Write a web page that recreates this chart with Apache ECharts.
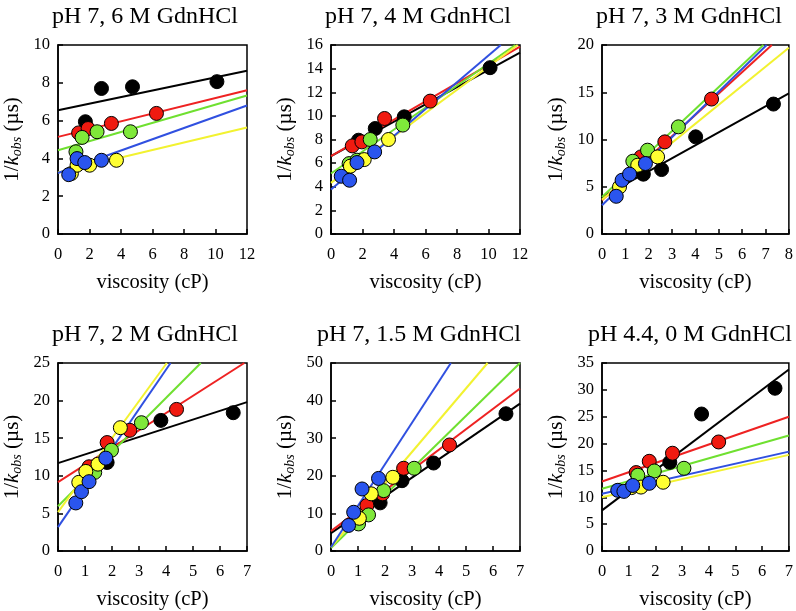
<!DOCTYPE html>
<html>
<head>
<meta charset="utf-8">
<script src="https://cdn.jsdelivr.net/npm/echarts@6/dist/echarts.min.js"></script>
<style>
html,body{margin:0;padding:0;background:#fff;}
#chart{width:796px;height:611px;}
</style>
</head>
<body>
<div id="chart"></div>
<script>
// ---------- titles & axis ranges ----------
const panelTitles = ['pH 7, 6 M GdnHCl','pH 7, 4 M GdnHCl','pH 7, 3 M GdnHCl','pH 7, 2 M GdnHCl','pH 7, 1.5 M GdnHCl','pH 4.4, 0 M GdnHCl'];
const xMax = [12, 12, 8, 7, 7, 7];
const xStep = [2, 2, 1, 1, 1, 1];
const yMax = [10, 16, 20, 25, 50, 35];
const yStep = [2, 2, 5, 5, 10, 5];
const xTitle = 'viscosity (cP)';
const yTitle = '1/{it|k}{sub|obs} (µs)';

// ---------- panel 1: pH 7, 6 M ----------
const p1Black  = [[1.74,5.94],[2.76,7.70],[4.73,7.79],[10.09,8.06]];
const p1Red    = [[1.31,5.35],[1.91,5.58],[3.39,5.85],[6.25,6.38]];
const p1Green  = [[1.14,4.35],[1.53,5.11],[2.48,5.41],[4.60,5.41]];
const p1Yellow = [[0.85,3.20],[1.21,3.64],[2.01,3.64],[3.71,3.90]];
const p1Blue   = [[0.68,3.14],[1.21,3.99],[1.70,3.78],[2.76,3.90]];
const p1BlackFit  = [[0,6.55],[12,8.64]];
const p1RedFit    = [[0,5.14],[12,7.61]];
const p1GreenFit  = [[0,4.43],[12,7.33]];
const p1YellowFit = [[0,3.25],[12,5.64]];
const p1BlueFit   = [[0,3.23],[12,6.80]];

// ---------- panel 2: pH 7, 4 M ----------
const p2Black  = [[1.75,7.94],[2.81,8.93],[4.65,9.92],[10.10,14.08]];
const p2Red    = [[1.35,7.46],[1.96,7.80],[3.40,9.78],[6.30,11.25]];
const p2Green  = [[1.15,5.96],[1.65,6.25],[2.49,8.00],[4.56,9.22]];
const p2Yellow = [[1.23,5.74],[2.11,6.30],[3.65,8.00]];
const p2Blue   = [[0.65,4.89],[1.18,4.55],[1.65,6.05],[2.77,6.95]];
const p2BlackFit  = [[0,6.60],[12,15.35]];
const p2RedFit    = [[0,6.59],[12,15.86]];
const p2GreenFit  = [[0,5.12],[11.7,16]];
const p2YellowFit = [[0,4.33],[11.85,16]];
const p2BlueFit   = [[0,3.76],[10.78,16]];

// ---------- panel 3: pH 7, 3 M ----------
const p3Black  = [[1.77,6.33],[2.55,6.82],[4.01,10.28],[7.34,13.75]];
const p3Red    = [[1.67,8.16],[2.69,9.75],[4.69,14.28]];
const p3Green  = [[1.32,7.70],[1.95,8.87],[3.27,11.34]];
const p3Yellow = [[0.75,4.98],[1.53,7.28],[2.38,8.16]];
const p3Blue   = [[0.61,3.99],[0.86,5.69],[1.18,6.33],[1.86,7.46]];
const p3BlackFit  = [[0,3.90],[8,14.88]];
const p3RedFit    = [[0,3.57],[7.27,20]];
const p3GreenFit  = [[0,3.92],[6.91,20]];
const p3YellowFit = [[0,3.64],[8,19.7]];
const p3BlueFit   = [[0,3.04],[7.05,20]];

// ---------- panel 4: pH 7, 2 M ----------
const p4Black  = [[1.82,11.77],[3.81,17.37],[6.49,18.39]];
const p4Red    = [[1.15,11.2],[1.82,14.42],[2.66,16.05],[4.39,18.83]];
const p4Green  = [[1.36,10.45],[1.98,13.40],[3.09,17.06]];
const p4Yellow = [[0.77,9.13],[1.03,10.58],[1.48,11.55],[2.31,16.40]];
const p4Blue   = [[0.66,6.39],[0.87,7.89],[1.15,9.22],[1.77,12.35]];
const p4BlackFit  = [[0,11.68],[7,19.8]];
const p4RedFit    = [[0,9.17],[6.9,25]];
const p4GreenFit  = [[0,5.95],[5.29,25]];
const p4YellowFit = [[0,5.16],[4.03,25]];
const p4BlueFit   = [[0,3.17],[4.17,25]];

// ---------- panel 5: pH 7, 1.5 M ----------
const p5Black  = [[1.82,12.8],[2.63,18.7],[3.80,23.4],[6.48,36.5]];
const p5Red    = [[1.33,12.1],[1.91,15.2],[2.69,22.0],[4.39,28.2]];
const p5Green  = [[1.02,7.2],[1.39,9.6],[1.95,16.05],[3.08,22.0]];
const p5Yellow = [[1.05,8.7],[1.49,15.2],[2.29,19.6]];
const p5Blue   = [[0.65,6.8],[0.84,10.3],[1.15,16.5],[1.76,19.3]];
const p5BlackFit  = [[0,4.76],[7,39.2]];
const p5RedFit    = [[0,5.29],[7,43.2]];
const p5GreenFit  = [[0,0.8],[7,50]];
const p5YellowFit = [[0,1.0],[5.8,50]];
const p5BlueFit   = [[0,1.0],[4.44,50]];

// ---------- panel 6: pH 4.4, 0 M ----------
const p6Black  = [[2.54,16.5],[3.73,25.5],[6.48,30.3]];
const p6Red    = [[1.28,14.6],[1.77,16.7],[2.64,18.2],[4.37,20.3]];
const p6Green  = [[1.34,14.1],[1.96,14.9],[3.07,15.4]];
const p6Yellow = [[1.10,11.8],[1.46,11.9],[2.29,12.8]];
const p6Blue   = [[0.59,11.3],[0.82,11.1],[1.15,12.2],[1.77,12.6]];
const p6BlackFit  = [[0,7.56],[7,33.8]];
const p6RedFit    = [[0,12.95],[7,25.0]];
const p6GreenFit  = [[0,11.6],[7,21.5]];
const p6YellowFit = [[0,10.0],[7,17.9]];
const p6BlueFit   = [[0,10.66],[7,18.5]];

const panels = [
  {pts:[p1Black,p1Red,p1Green,p1Yellow,p1Blue], fits:[p1BlackFit,p1RedFit,p1GreenFit,p1YellowFit,p1BlueFit]},
  {pts:[p2Black,p2Red,p2Green,p2Yellow,p2Blue], fits:[p2BlackFit,p2RedFit,p2GreenFit,p2YellowFit,p2BlueFit]},
  {pts:[p3Black,p3Red,p3Green,p3Yellow,p3Blue], fits:[p3BlackFit,p3RedFit,p3GreenFit,p3YellowFit,p3BlueFit]},
  {pts:[p4Black,p4Red,p4Green,p4Yellow,p4Blue], fits:[p4BlackFit,p4RedFit,p4GreenFit,p4YellowFit,p4BlueFit]},
  {pts:[p5Black,p5Red,p5Green,p5Yellow,p5Blue], fits:[p5BlackFit,p5RedFit,p5GreenFit,p5YellowFit,p5BlueFit]},
  {pts:[p6Black,p6Red,p6Green,p6Yellow,p6Blue], fits:[p6BlackFit,p6RedFit,p6GreenFit,p6YellowFit,p6BlueFit]}
];

// ---------- styling ----------
const pointColors = ['#000000','#f01a10','#7fe83a','#ffff33','#2a55ee'];
const lineColors  = ['#000000','#ee2222','#6fe030','#f2f230','#3050e0'];
const FONT = '"Liberation Serif","Times New Roman",serif';
const gridLeft = [58, 331, 602, 58, 331, 602];
const gridTop  = [45, 45, 45, 363, 363, 363];
const GW = 189, GH = 189;
const titleX = [140, 413, 684, 140, 414, 685];

const grids = [], xAxes = [], yAxes = [], titles = [], series = [];
for (let i = 0; i < 6; i++) {
  grids.push({left: gridLeft[i], top: gridTop[i], width: GW, height: GH,
              show: true, borderColor: '#000', borderWidth: 1.5, backgroundColor: 'transparent'});
  titles.push({text: panelTitles[i], left: titleX[i], top: gridTop[i] - 45, textAlign: 'center',
               textStyle: {fontFamily: FONT, fontSize: 24, fontWeight: 'normal', color: '#000'}});
  xAxes.push({type: 'value', gridIndex: i, min: 0, max: xMax[i], interval: xStep[i],
    name: xTitle, nameLocation: 'middle', nameGap: 38,
    nameTextStyle: {fontFamily: FONT, fontSize: 20.5, color: '#000'},
    axisLine: {show: true, lineStyle: {color: '#000', width: 1.5}},
    axisTick: {show: true, inside: true, length: 5, lineStyle: {color: '#000', width: 1.5}},
    axisLabel: {fontFamily: FONT, fontSize: 16.5, color: '#000', margin: 12},
    splitLine: {show: false}});
  yAxes.push({type: 'value', gridIndex: i, min: 0, max: yMax[i], interval: yStep[i],
    name: yTitle, nameLocation: 'middle', nameGap: 34, nameRotate: 90,
    nameTextStyle: {fontFamily: FONT, fontSize: 21, color: '#000',
      rich: {
        it: {fontFamily: FONT, fontSize: 21, fontStyle: 'italic', color: '#000'},
        sub: {fontFamily: FONT, fontSize: 14, fontStyle: 'italic', color: '#000', verticalAlign: 'bottom', padding: [9,0,0,0]}
      }},
    axisLine: {show: true, lineStyle: {color: '#000', width: 1.5}},
    axisTick: {show: true, inside: true, length: 5, lineStyle: {color: '#000', width: 1.5}},
    axisLabel: {fontFamily: FONT, fontSize: 16.5, color: '#000', margin: 8},
    splitLine: {show: false}});
  panels[i].fits.forEach((f, k) => {
    series.push({type: 'line', xAxisIndex: i, yAxisIndex: i, data: f, showSymbol: false,
      symbol: 'none', clip: true, silent: true, z: 2 + k * 0.01,
      lineStyle: {color: lineColors[k], width: 2}});
  });
  panels[i].pts.forEach((p, k) => {
    series.push({type: 'scatter', xAxisIndex: i, yAxisIndex: i, data: p, symbol: 'circle',
      symbolSize: 14, z: 5 + k * 0.01, silent: true,
      itemStyle: {color: pointColors[k], borderColor: '#000', borderWidth: 1, opacity: 1}});
  });
}

const chart = echarts.init(document.getElementById('chart'), null, {renderer: 'canvas'});
chart.setOption({
  animation: false,
  backgroundColor: '#fff',
  title: titles,
  grid: grids,
  xAxis: xAxes,
  yAxis: yAxes,
  series: series
});
</script>
</body>
</html>
